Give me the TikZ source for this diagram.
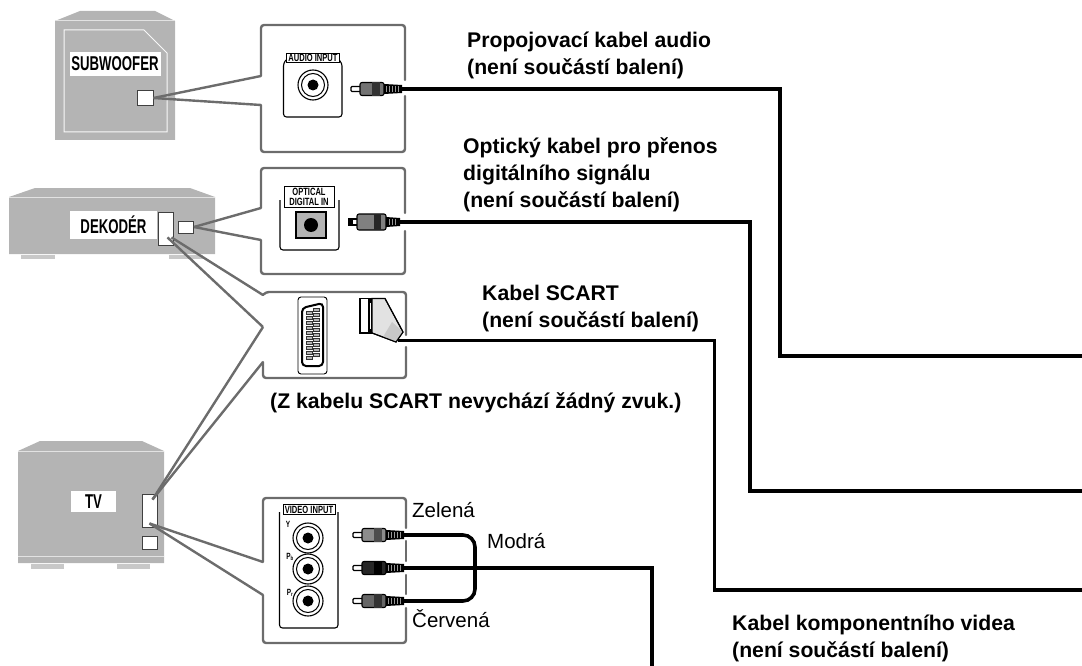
\documentclass[tikz,border=0pt]{standalone}
\usepackage{fontspec}
\setmainfont{Liberation Sans}
\newfontfamily\narrowfont[FakeStretch=0.72]{Liberation Sans}
\newfontfamily\devicefont[FakeStretch=0.66]{Liberation Sans}
\usepackage{tikz}
\usetikzlibrary{arrows.meta,calc}
\definecolor{caseG}{HTML}{B4B4B4}
\definecolor{caseL}{HTML}{E2E2E2}
\definecolor{frameG}{HTML}{6C6C6C}
\definecolor{footG}{HTML}{C8C8C8}
\tikzset{
    caption/.style={anchor=north west, inner sep=0pt, align=left, font=\fontsize{21.2}{27}\selectfont\bfseries},
    colourname/.style={anchor=base west, inner sep=0pt, font=\fontsize{20.5}{24}\selectfont},
    devlabel/.style={fill=white, inner sep=0pt, font=\devicefont\fontsize{20}{21}\selectfont\bfseries},
    jacktab/.style={draw=black, line width=0.9pt, fill=white, inner sep=0pt, align=center, font=\narrowfont\fontsize{10.5}{10.5}\selectfont\bfseries},
    port/.style={draw=black!75, line width=0.9pt, fill=white, inner sep=0pt},
    frameline/.style={draw=frameG, line width=2.4pt, rounded corners=3pt, line cap=round},
    pointer/.style={draw=frameG, line width=2.4pt},
    cable/.style={draw=black, line width=3.6pt},
    thin line/.style={draw=black, line width=1.1pt},
    pinlabel/.style={inner sep=0pt, font=\narrowfont\fontsize{9}{9}\selectfont\bfseries}
}
% ---- plug and socket parts ----
\newcommand{\rcaplug}[5]{% name, x, y, body colour, band colour
    \draw[thin line, fill=white, rounded corners=1pt] (#2,#3-2.5) rectangle (#2+10,#3+2.5);
    \draw[thin line, fill=#4, rounded corners=2pt] (#2+9,#3-6.5) rectangle (#2+33,#3+6.5);
    \fill[#5] (#2+21,#3-7) rectangle (#2+29,#3+7);
    \fill[black] (#2+33,#3-5) -- (#2+51,#3-4) -- (#2+51,#3+4) -- (#2+33,#3+5) -- cycle;
    \foreach \hx in {35,38,41,44,47} {\fill[black!40] (#2+\hx,#3-3) rectangle (#2+\hx+1.4,#3+3);}
    \coordinate (#1) at (#2+50,#3);
}
\newcommand{\rcajack}[3]{% name, x, y
    \node[circle, draw=black, line width=1.1pt, fill=white, minimum size=30pt, inner sep=0pt] (#1) at (#2,#3) {};
    \draw[black, line width=1pt] (#1) circle (11.5pt);
    \fill[black] (#1) circle (5.5pt);
}
\begin{document}
\begin{tikzpicture}[x=1pt, y=-1pt]
\useasboundingbox (0,0) rectangle (1082,666);

% ---- SUBWOOFER ----
\fill[caseG] (55,21) -- (80,11) -- (155,11) -- (175,21) -- (175,140) -- (55,140) -- cycle;
\draw[caseL, line width=1pt] (55,21) -- (175,21);
\draw[white!90!caseG, line width=1pt] (64,30) -- (144,30) -- (167,53) -- (167,132) -- (64,132) -- cycle;
\node[devlabel, minimum width=91pt, minimum height=24pt] (subLabel) at (115,64) {SUBWOOFER};
\node[port, minimum width=16pt, minimum height=15pt] (subPort) at (145,98) {};

% ---- DEKODER ----
\fill[caseG] (9,197) -- (35,188) -- (190,188) -- (215,197) -- (215,254) -- (9,254) -- cycle;
\draw[caseL, line width=1pt] (9,197) -- (215,197);
\fill[footG] (21,255) rectangle (55,259);
\fill[footG] (169,255) rectangle (203,259);
\node[devlabel, minimum width=87pt, minimum height=28pt] (dekLabel) at (113.5,225) {DEKOD\'{E}R};
\node[port, minimum width=15pt, minimum height=33pt] (dekSlot) at (165.5,228.5) {};
\node[port, minimum width=15pt, minimum height=12pt] (dekPort) at (186,227) {};

% ---- TV ----
\fill[caseG] (18,451) -- (40,441) -- (142,441) -- (164,451) -- (164,563) -- (18,563) -- cycle;
\draw[caseL, line width=1pt] (18,451) -- (164,451);
\draw[caseL, line width=1pt] (18,556) -- (164,556);
\fill[footG] (31,564) rectangle (64,569);
\fill[footG] (117,564) rectangle (150,569);
\node[devlabel, minimum width=45pt, minimum height=21pt] (tvLabel) at (93.5,501.5) {TV};
\node[port, minimum width=15pt, minimum height=33pt] (tvSlot) at (149.5,510.5) {};
\node[port, minimum width=15pt, minimum height=13pt] (tvPort) at (149.5,543) {};

% ---- audio panel ----
\draw[frameline] (261,76) -- (261,25) -- (405,25) -- (405,80);
\draw[frameline] (405,96) -- (405,152) -- (261,152) -- (261,105);
\coordinate (audioA) at (261,76);
\coordinate (audioB) at (261,105);
\draw[pointer] (subPort.east) -- (audioA);
\draw[pointer] (subPort.east) -- (audioB);
\draw[thin line, rounded corners=3pt] (286,60) -- (283.5,63) -- (283.5,117) -- (342,117) -- (342,63) -- (339,60);
\node[jacktab, minimum width=53pt, minimum height=9pt] (audioTab) at (313,58) {AUDIO INPUT};
\rcajack{audioJack}{313}{85}
\rcaplug{audioPlug}{351}{89}{black!55}{black!80}

% ---- optical panel ----
\draw[frameline] (261,208) -- (261,168) -- (405,168) -- (405,213);
\draw[frameline] (405,231) -- (405,274) -- (261,274) -- (261,240);
\coordinate (opticA) at (261,208);
\coordinate (opticB) at (261,240);
\draw[pointer] (dekPort.east) -- (opticA);
\draw[pointer] (dekPort.east) -- (opticB);
\draw[thin line, rounded corners=3pt] (280,200) -- (280,250) -- (339,250) -- (339,200);
\node[jacktab, minimum width=50pt, minimum height=21pt] (opticTab) at (309,197) {OPTICAL\\DIGITAL IN};
\node[draw=black, line width=1.1pt, fill=caseG, minimum width=30pt, minimum height=26pt, inner sep=0pt] (opticJack) at (311,225) {};
\fill[black] (opticJack) circle (7pt);
\draw[thin line, fill=white] (349,219) rectangle (358,225);
\fill[black] (349,220) rectangle (353,224);
\draw[thin line, fill=black!50, rounded corners=2pt] (357,214) rectangle (386,230);
\fill[black!85] (374,214) rectangle (381,230);
\fill[black] (386,217) -- (400,218) -- (400,226) -- (386,227) -- cycle;
\foreach \hx in {389,392,395} {\fill[black!40] (\hx,219) rectangle (\hx+1.4,225);}
\coordinate (opticPlug) at (399,222);

% ---- scart panel ----
\draw[frameline] (263,295) -- (266,292) -- (406,292) -- (406,335);
\draw[frameline] (406,347) -- (406,378) -- (263,378) -- (263,362);
\coordinate (scartA) at (263,295);
\coordinate (scartB) at (263,327);
\coordinate (scartC) at (263,362);
\draw[pointer] (dekSlot.south) ++(2,-8) coordinate (dekEnd) -- (scartB);
\draw[pointer] (dekEnd) ++(4,0) coordinate (dekEndB) -- (scartA);
\draw[pointer] (tvSlot.north) ++(3,6) coordinate (tvEnd) -- (scartB);
\draw[pointer] (tvEnd) -- (scartC);
\draw[draw=black, line width=0.9pt, rounded corners=3pt, fill=white] (298,297) rectangle (327,374);
\draw[black, line width=2pt, rounded corners=4pt, fill=white] (302,308) -- (323,303) -- (323,366) -- (302,366) -- cycle;
\foreach \py in {311,316,...,360} {
    \draw[black!80, fill=caseG, line width=0.6pt] (306,\py) rectangle (312,\py+3);
    \draw[black!80, fill=caseG, line width=0.6pt] (313.5,\py-2.5) rectangle (319.5,\py+0.5);
}
\draw[thin line, fill=white] (360,298.5) rectangle (372,333);
\fill[black] (368,299) rectangle (372,333);
\fill[white] (369.5,303) rectangle (371,329);
\draw[thin line, fill=caseL] (372,298.5) -- (385,298.5) -- (403,332) -- (396,342) -- (372,333) -- cycle;
\fill[footG] (392,322) -- (403,332) -- (396,342) -- (383,337) -- cycle;
\draw[thin line] (385,298.5) -- (403,332) -- (396,342) -- (372,333);
\coordinate (scartPlug) at (398,340.5);

% ---- video panel ----
\draw[frameline] (263,562) -- (263,498) -- (406,498) -- (406,528);
\draw[frameline] (406,541) -- (406,561);
\draw[frameline] (406,575) -- (406,594);
\draw[frameline] (406,608) -- (406,643) -- (263,643) -- (263,595);
\coordinate (videoA) at (263,562);
\coordinate (videoB) at (263,595);
\draw[pointer] (tvSlot.south) ++(0,-4) coordinate (tvEndB) -- (videoA);
\draw[pointer] (tvEndB) -- (videoB);
\draw[thin line, rounded corners=3pt] (279.5,512) -- (279.5,628) -- (338,628) -- (338,512);
\node[jacktab, minimum width=52pt, minimum height=10pt] (videoTab) at (309,509.5) {VIDEO INPUT};
\rcajack{jackY}{308}{538}
\rcajack{jackB}{308}{569}
\rcajack{jackR}{308}{601}
\node[pinlabel] (labelY) at (288,524) {Y};
\node[pinlabel] (labelB) at (290,557) {P\textsubscript{b}};
\node[pinlabel] (labelR) at (290,593) {P\textsubscript{r}};
\rcaplug{plugG}{353}{535}{black!45}{black!70}
\rcaplug{plugB}{353}{568}{black!85}{black}
\rcaplug{plugR}{353}{601}{black!60}{black!80}

% ---- cables ----
\coordinate (audioOut) at (1082,356);
\coordinate (opticOut) at (1082,491);
\coordinate (scartOut) at (1082,590);
\coordinate (videoOut) at (652,666);
\draw[cable] (audioPlug) -| (780,356) -- (audioOut);
\draw[cable] (opticPlug) -| (750,491) -- (opticOut);
\draw[cable] (scartPlug) -| (714.5,590) -- (scartOut);
\draw[cable] (plugB) -| (videoOut);
\draw[cable, rounded corners=12pt] (plugG) -- (475,535) -- (475,601) -- (plugR);

% ---- captions ----
\node[caption] (capAudio) at (467,31.5) {Propojovac\'{\i} kabel audio\\(nen\'{\i} sou\v{c}\'{a}st\'{\i} balen\'{\i})};
\node[caption] (capOptic) at (463,137.5) {Optick\'{y} kabel pro p\v{r}enos\\digit\'{a}ln\'{\i}ho sign\'{a}lu\\(nen\'{\i} sou\v{c}\'{a}st\'{\i} balen\'{\i})};
\node[caption] (capScart) at (482,285) {Kabel SCART\\(nen\'{\i} sou\v{c}\'{a}st\'{\i} balen\'{\i})};
\node[caption] (capNote) at (270,392.5) {(Z kabelu SCART nevych\'{a}z\'{\i} \v{z}\'{a}dn\'{y} zvuk.)};
\node[caption] (capVideo) at (732,614.5) {Kabel komponentn\'{\i}ho videa\\(nen\'{\i} sou\v{c}\'{a}st\'{\i} balen\'{\i})};
\node[colourname] (nameG) at (412,517) {Zelen\'{a}};
\node[colourname] (nameB) at (487,548) {Modr\'{a}};
\node[colourname] (nameR) at (412,627) {\v{C}erven\'{a}};
\end{tikzpicture}
\end{document}
